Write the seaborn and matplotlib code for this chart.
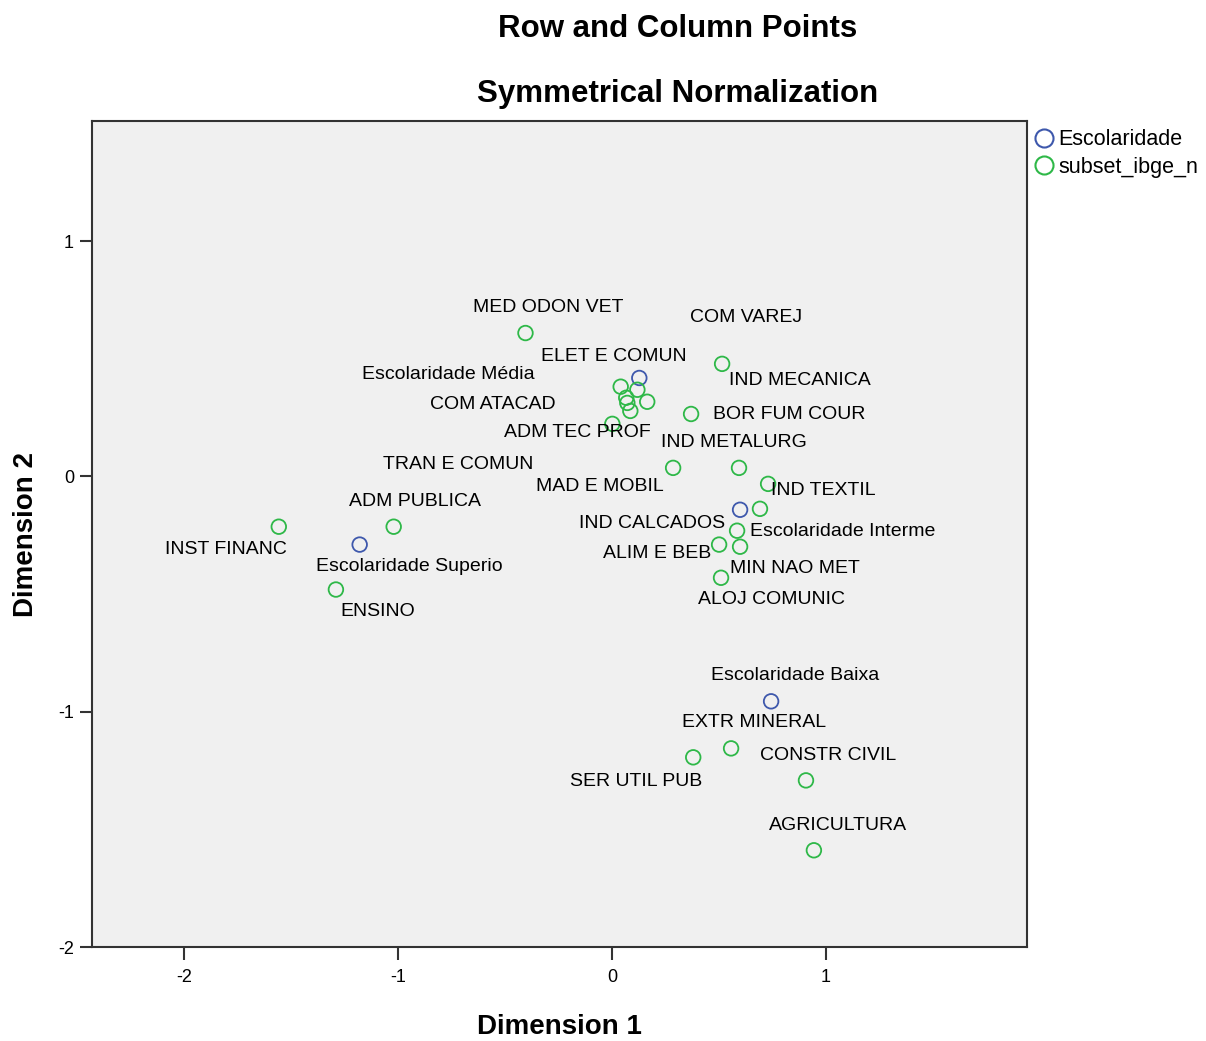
import matplotlib
matplotlib.use("Agg")
import matplotlib.pyplot as plt
from matplotlib.lines import Line2D
import seaborn as sns
import pandas as pd

# ---------------- data ----------------
row_names = ["Escolaridade Média", "Escolaridade Interme", "Escolaridade Superio", "Escolaridade Baixa"]
row_dim1 = [0.128, 0.599, -1.179, 0.744]
row_dim2 = [0.418, -0.142, -0.290, -0.956]

col_names = ["MED ODON VET", "IND MECANICA", "ELET E COMUN", "COM VAREJ", "COM ATACAD",
             "MAT TRANSP", "PAPEL E GRAF", "TRAN E COMUN", "ADM TEC PROF", "BOR FUM COUR",
             "MAD E MOBIL", "IND METALURG", "IND TEXTIL", "IND QUIMICA", "IND CALCADOS",
             "ALIM E BEB", "MIN NAO MET", "ALOJ COMUNIC", "INST FINANC", "ADM PUBLICA",
             "ENSINO", "EXTR MINERAL", "SER UTIL PUB", "CONSTR CIVIL", "AGRICULTURA"]
col_dim1 = [-0.404, 0.515, 0.041, 0.119, 0.067, 0.072, 0.165, 0.086, 0.002, 0.370,
            0.286, 0.594, 0.730, 0.692, 0.585, 0.501, 0.599, 0.510, -1.557, -1.020,
            -1.290, 0.557, 0.380, 0.907, 0.944]
col_dim2 = [0.609, 0.478, 0.381, 0.368, 0.334, 0.312, 0.317, 0.278, 0.223, 0.265,
            0.036, 0.036, -0.032, -0.138, -0.231, -0.290, -0.299, -0.431, -0.214, -0.214,
            -0.481, -1.156, -1.194, -1.292, -1.589]

group_names = ["Escolaridade", "subset_ibge_n"]
group_colors = ["#3E58AC", "#2EB848"]

title_lines = ["Row and Column Points", "Symmetrical Normalization"]
x_ticks = [-2, -1, 0, 1]
y_ticks = [-2, -1, 0, 1]

# label offsets (pixels) relative to each point; labels hidden by the original are omitted
label_offsets = {
    "MED ODON VET": (23, 26), "IND MECANICA": (78, -17), "ELET E COMUN": (-7, 30),
    "COM VAREJ": (109, 72), "COM ATACAD": (-133, -7), "TRAN E COMUN": (-172, -54),
    "ADM TEC PROF": (-35, -9), "Escolaridade Média": (-191, 3), "BOR FUM COUR": (98, -1),
    "IND METALURG": (-5, 25), "MAD E MOBIL": (-73, -19), "IND TEXTIL": (55, -7),
    "ADM PUBLICA": (21, 25), "IND CALCADOS": (-85, 7), "Escolaridade Interme": (103, -22),
    "INST FINANC": (-53, -23), "ALIM E BEB": (-62, -9), "Escolaridade Superio": (50, -22),
    "MIN NAO MET": (55, -22), "ALOJ COMUNIC": (50, -22), "ENSINO": (42, -22),
    "Escolaridade Baixa": (24, 26), "EXTR MINERAL": (23, 26), "SER UTIL PUB": (-57, -24),
    "CONSTR CIVIL": (22, 25), "AGRICULTURA": (24, 25),
}

df = pd.concat([
    pd.DataFrame({"name": row_names, "Dimension 1": row_dim1, "Dimension 2": row_dim2,
                  "group": group_names[0]}),
    pd.DataFrame({"name": col_names, "Dimension 1": col_dim1, "Dimension 2": col_dim2,
                  "group": group_names[1]}),
], ignore_index=True)

# ---------------- plot ----------------
sns.set_theme(style="white")
plt.rcParams["font.family"] = ["Liberation Sans", "DejaVu Sans"]
plt.rcParams["axes.unicode_minus"] = False
plt.rcParams["text.color"] = "black"
plt.rcParams["axes.labelcolor"] = "black"

W, H = 1206, 1041
fig = plt.figure(figsize=(W / 100, H / 100), dpi=100)
ax = fig.add_axes([92 / W, 1 - 947 / H, (1027 - 92) / W, (947 - 121) / H])
ax.set_facecolor("#F0F0F0")

sns.scatterplot(data=df, x="Dimension 1", y="Dimension 2", hue="group",
                hue_order=group_names, palette=group_colors, s=110,
                linewidth=1.3, legend=False, ax=ax, zorder=3)
for coll in ax.collections:
    fc = coll.get_facecolors()
    coll.set_edgecolors(fc)
    coll.set_facecolors("none")

for _, r in df.iterrows():
    if r["name"] in label_offsets:
        dx, dy = label_offsets[r["name"]]
        ax.annotate(r["name"], (r["Dimension 1"], r["Dimension 2"]), xytext=(dx, dy),
                    textcoords="offset pixels", ha="center", va="center",
                    fontsize=14, color="black", zorder=4)

ax.set_xlim(-2.43, 1.94)
ax.set_ylim(-2.0, 1.51)
ax.set_xticks(x_ticks)
ax.set_yticks(y_ticks)
ax.tick_params(axis="both", direction="out", length=9, width=1.5, color="#333333",
               labelsize=13, labelcolor="black", bottom=True, left=True)
ax.tick_params(axis="x", pad=7)
ax.tick_params(axis="y", pad=4)
for sp in ax.spines.values():
    sp.set_color("#333333")
    sp.set_linewidth(1.5)

ax.set_xlabel("Dimension 1", fontsize=20, fontweight="bold", labelpad=20)
ax.set_ylabel("Dimension 2", fontsize=20, fontweight="bold", labelpad=14)

fig.text(678 / W, 1 - 29 / H, title_lines[0], ha="center", va="center",
         fontsize=22.5, fontweight="bold", color="black")
fig.text(678 / W, 1 - 94 / H, title_lines[1], ha="center", va="center",
         fontsize=22.5, fontweight="bold", color="black")

handles = [Line2D([0], [0], marker="o", linestyle="none", markersize=13,
                  markerfacecolor="none", markeredgecolor=c, markeredgewidth=1.5)
           for c in group_colors]
fig.legend(handles, group_names, loc="upper left", bbox_to_anchor=(1022 / W, 1 - 125 / H),
           frameon=False, fontsize=15.5, handletextpad=-0.1, handlelength=1.6,
           labelspacing=0.3, borderaxespad=0, borderpad=0.2)

fig.savefig("out.png", dpi=100)
